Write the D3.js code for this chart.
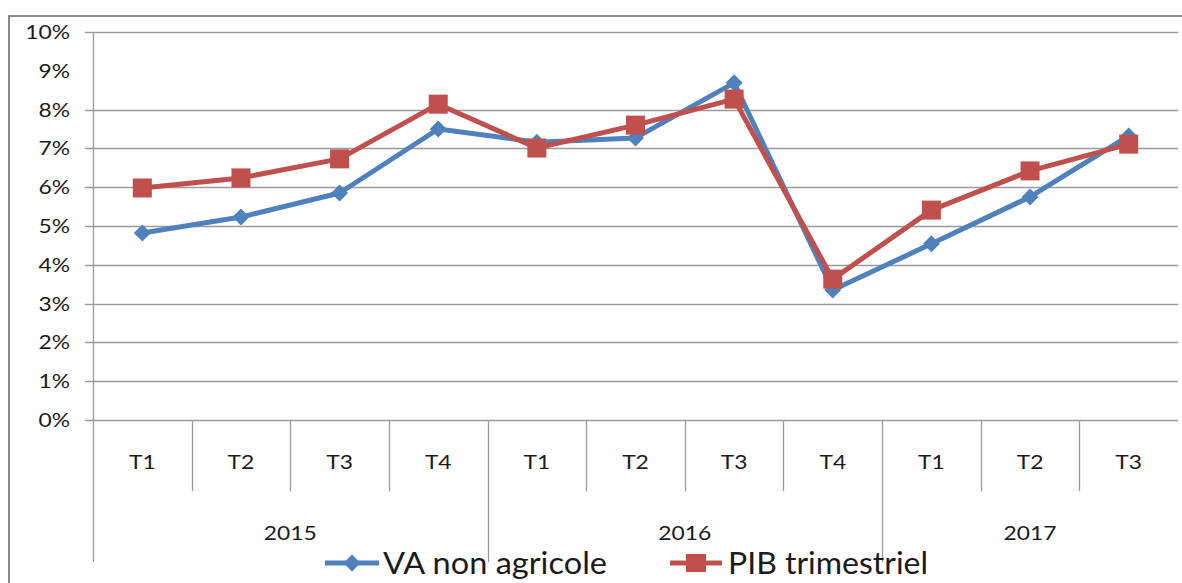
<!DOCTYPE html>
<html>
<head>
<meta charset="utf-8">
<script src="https://cdn.jsdelivr.net/npm/d3@7"></script>
<style>
  html, body { margin: 0; padding: 0; background: #fff; }
  svg { display: block; }
  text { font-family: Lato, "Open Sans", sans-serif; fill: #1a1a1a; }
</style>
</head>
<body>
<svg id="chart" width="1182" height="583"></svg>
<script>
// ---- data ----
const quarters = ["T1","T2","T3","T4","T1","T2","T3","T4","T1","T2","T3"];
const years = ["2015","2016","2017"];
const yearSpans = [4, 4, 3];
const vaNonAgricole = [4.82, 5.23, 5.85, 7.50, 7.16, 7.27, 8.69, 3.35, 4.54, 5.75, 7.32];
const pibTrimestriel = [5.98, 6.24, 6.73, 8.14, 7.01, 7.60, 8.27, 3.63, 5.41, 6.42, 7.11];
const yTicks = [0,1,2,3,4,5,6,7,8,9,10];
const gridTicks = [0,1,2,3,4,5,6,7,8,10];
const seriesNames = ["VA non agricole", "PIB trimestriel"];

(function () {
// ---- layout ----
const svg = d3.select("#chart");
const pLeft = 93, pRight = 1178, pTop = 32, pBottom = 420;
const blue = "#4F81BD", red = "#C0504D", grid = "#9a9a9a";
const sx = 1.14;

const x = d3.scaleBand().domain(d3.range(quarters.length)).range([pLeft, pRight]).padding(0);
const y = d3.scaleLinear().domain([0, 10]).range([pBottom, pTop]);

// outer border
svg.append("path").attr("d", `M9,583 L9,16 L1182,16`)
  .attr("fill", "none").attr("stroke", "#8a8a8a").attr("stroke-width", 2);

// gridlines
svg.append("g").selectAll("line").data(gridTicks).join("line")
  .attr("x1", pLeft - 8).attr("x2", pRight)
  .attr("y1", d => Math.round(y(d)) + 0.5).attr("y2", d => Math.round(y(d)) + 0.5)
  .attr("stroke", grid).attr("stroke-width", 1.3);

// y tick labels
svg.append("g").selectAll("text").data(yTicks).join("text")
  .attr("transform", d => `translate(70,${y(d) + 7}) scale(${sx},1)`)
  .attr("text-anchor", "end").attr("font-size", 20)
  .text(d => d + "%");

// y axis line
svg.append("line").attr("x1", pLeft + 0.5).attr("x2", pLeft + 0.5)
  .attr("y1", pTop).attr("y2", 562).attr("stroke", grid).attr("stroke-width", 1.3);

// category separators
const yearBounds = new Set(Array.from(d3.cumsum(yearSpans)).slice(0, -1));
svg.append("g").selectAll("line").data(d3.range(1, quarters.length)).join("line")
  .attr("x1", i => Math.round(x(i)) + 0.5).attr("x2", i => Math.round(x(i)) + 0.5)
  .attr("y1", pBottom).attr("y2", i => yearBounds.has(i) ? 562 : 491)
  .attr("stroke", grid).attr("stroke-width", 1.3);

// quarter labels
svg.append("g").selectAll("text").data(quarters).join("text")
  .attr("transform", (d, i) => `translate(${x(i) + x.bandwidth() / 2},469) scale(${sx},1)`)
  .attr("text-anchor", "middle").attr("font-size", 20)
  .text(d => d);

// year labels
const starts = [0, ...Array.from(d3.cumsum(yearSpans))];
svg.append("g").selectAll("text").data(years).join("text")
  .attr("transform", (d, i) => {
    const x0 = x(starts[i]);
    const x1 = starts[i + 1] >= quarters.length ? pRight : x(starts[i + 1]);
    return `translate(${(x0 + x1) / 2},540) scale(${sx},1)`;
  })
  .attr("text-anchor", "middle").attr("font-size", 20)
  .text(d => d);

const cx = (d, i) => x(i) + x.bandwidth() / 2;
const line = d3.line().x(cx).y(d => y(d));

// blue series
svg.append("path").datum(vaNonAgricole).attr("d", line)
  .attr("fill", "none").attr("stroke", blue).attr("stroke-width", 5).attr("stroke-linejoin", "round");
const diamond = s => `M0,${-s} L${s},0 L0,${s} L${-s},0 Z`;
svg.append("g").selectAll("path").data(vaNonAgricole).join("path")
  .attr("transform", (d, i) => `translate(${cx(d, i)},${y(d)})`)
  .attr("d", diamond(8.5)).attr("fill", blue);

// red series
svg.append("path").datum(pibTrimestriel).attr("d", line)
  .attr("fill", "none").attr("stroke", red).attr("stroke-width", 5).attr("stroke-linejoin", "round");
svg.append("g").selectAll("rect").data(pibTrimestriel).join("rect")
  .attr("x", (d, i) => cx(d, i) - 9.5).attr("y", d => y(d) - 9.5)
  .attr("width", 19).attr("height", 19).attr("fill", red);

// legend
const lg = svg.append("g");
const legendItems = [
  { name: seriesNames[0], color: blue, x0: 325, x1: 379, tx: 383, tw: 224, shape: "diamond" },
  { name: seriesNames[1], color: red, x0: 670, x1: 722, tx: 728, tw: 200, shape: "square" }
];
legendItems.forEach(it => {
  lg.append("line").attr("x1", it.x0).attr("x2", it.x1).attr("y1", 563).attr("y2", 563)
    .attr("stroke", it.color).attr("stroke-width", 5);
  const mx = (it.x0 + it.x1) / 2;
  if (it.shape === "diamond") {
    lg.append("path").attr("transform", `translate(${mx},563)`).attr("d", diamond(8.5)).attr("fill", it.color);
  } else {
    lg.append("rect").attr("x", mx - 10).attr("y", 554).attr("width", 20).attr("height", 18).attr("fill", it.color);
  }
  lg.append("text").attr("x", it.tx).attr("y", 574).attr("font-size", 31)
    .attr("textLength", it.tw).attr("lengthAdjust", "spacingAndGlyphs")
    .text(it.name);
});
})();
</script>
</body>
</html>
